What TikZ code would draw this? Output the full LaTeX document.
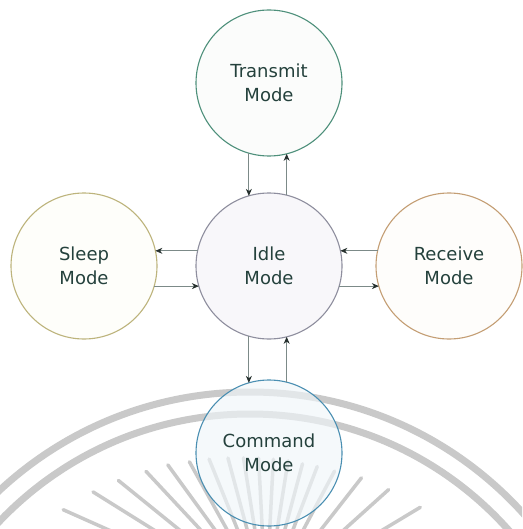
\documentclass[tikz,border=0pt]{standalone}
\usepackage{fontspec}
\setmainfont{DejaVu Sans}
\usetikzlibrary{arrows.meta,calc}
\definecolor{txt}{HTML}{24413C}
\definecolor{wm}{HTML}{C9C9C9}
\definecolor{arrgray}{HTML}{7C8A88}
\definecolor{arrhead}{HTML}{26302E}
\definecolor{bTransmit}{HTML}{4E907B}
\definecolor{bSleep}{HTML}{BDB47C}
\definecolor{bIdle}{HTML}{8E8E9E}
\definecolor{bReceive}{HTML}{C49E74}
\definecolor{bCommand}{HTML}{4A8FB2}
\definecolor{fTransmit}{HTML}{FAFBFA}
\definecolor{fSleep}{HTML}{FEFEF8}
\definecolor{fIdle}{HTML}{F5F4F8}
\definecolor{fReceive}{HTML}{FEFCF9}
\definecolor{fCommand}{HTML}{F0F6FA}
\begin{document}
\begin{tikzpicture}[x=1pt,y=-1pt,
  mode/.style={circle,minimum size=146pt,inner sep=0pt,outer sep=0pt,
    line width=1.1pt,font=\fontsize{18}{24}\selectfont,text=txt,
    align=center,fill opacity=0.65,text opacity=1,draw opacity=1},
  link/.style={draw=arrgray,line width=0.8pt,
    -{Stealth[length=7pt,width=6pt,color=arrhead]}},
  wmarc/.style={draw=wm,line width=7pt},
  wmray/.style={draw=wm,line width=3.5pt,line cap=round}]
\useasboundingbox (0,0) rectangle (522,529);
\fill[white] (0,0) rectangle (522,529);
% watermark
\begin{scope}
\clip (0,0) rectangle (522,529);
\coordinate (ac) at (250,760);
\coordinate (wc) at (266,600);
\draw[wmarc] (ac) circle[radius=368pt];
\draw[wmarc] (ac) circle[radius=346pt];
\foreach \a/\r in {156/222,148/204,141/190,133/176,126/167,119/158,112/152,
  105/147,99/144,93/142,87/141,81/141,75/141,69/143,62/146,52/155,
  42/165,31/180}
  \draw[wmray] ($(wc)+(\a:\r pt)$) -- ($(wc)+(\a:60pt)$);
\end{scope}
% modes
\node[mode,draw=bTransmit,fill=fTransmit] (transmit) at (269,83) {Transmit\\Mode};
\node[mode,draw=bSleep,fill=fSleep] (sleep) at (84,266) {Sleep\\Mode};
\node[mode,draw=bIdle,fill=fIdle] (idle) at (269,266) {Idle\\Mode};
\node[mode,draw=bReceive,fill=fReceive] (receive) at (449,266) {Receive\\Mode};
\node[mode,draw=bCommand,fill=fCommand] (command) at (269,453) {Command\\Mode};
% transitions
\draw[link] (transmit.-106.7) -- (idle.106.7);
\draw[link] (idle.76.5) -- (transmit.-76.5);
\draw[link] (idle.168) -- (sleep.12);
\draw[link] (sleep.-16.7) -- (idle.196.7);
\draw[link] (receive.168) -- (idle.12);
\draw[link] (idle.-16.7) -- (receive.196.7);
\draw[link] (idle.-106.7) -- (command.106.7);
\draw[link] (command.76.5) -- (idle.-76.5);
\end{tikzpicture}
\end{document}
